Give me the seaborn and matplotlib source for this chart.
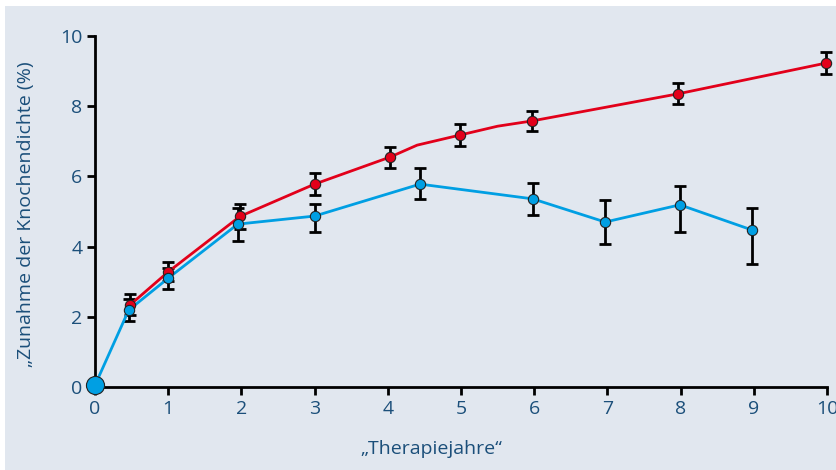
import numpy as np
import pandas as pd
import seaborn as sns
import matplotlib.pyplot as plt
from matplotlib.patches import Rectangle

# werte
red_x = [0.48, 1.0, 1.98, 3.0, 4.03, 4.99, 5.97, 7.96, 9.99]
red_y = [2.34, 3.28, 4.86, 5.78, 6.55, 7.18, 7.58, 8.35, 9.23]
red_err = [0.30, 0.27, 0.35, 0.31, 0.30, 0.30, 0.29, 0.30, 0.31]

# rote linie hat zusaetzliche knickpunkte
red_line_x = [0.48, 1.0, 1.98, 3.0, 4.03, 4.4, 4.99, 5.5, 5.97, 7.96, 9.99]
red_line_y = [2.34, 3.28, 4.86, 5.78, 6.55, 6.89, 7.18, 7.43, 7.58, 8.35, 9.23]

blue_x = [0.0, 0.46, 1.0, 1.95, 3.0, 4.44, 5.98, 6.97, 7.99, 8.98]
blue_y = [0.05, 2.19, 3.10, 4.64, 4.87, 5.78, 5.36, 4.70, 5.19, 4.47]
blue_err_low = [0.0, 0.31, 0.30, 0.47, 0.45, 0.42, 0.45, 0.62, 0.78, 0.96]
blue_err_up = [0.0, 0.31, 0.30, 0.47, 0.34, 0.46, 0.45, 0.63, 0.53, 0.62]

x_ticks = [0, 1, 2, 3, 4, 5, 6, 7, 8, 9, 10]
y_ticks = [0, 2, 4, 6, 8, 10]

bg = '#E1E7EF'
red = '#E2001A'
blue = '#009FE3'
txt = '#1B4F7A'

sns.set_theme(style='white')
plt.rcParams['font.family'] = ['Open Sans', 'DejaVu Sans']

fig = plt.figure(figsize=(8.36, 4.70), dpi=100)
fig.patch.set_facecolor('white')
fig.patches.append(Rectangle((5 / 836, 0), 1, 1 - 6 / 470, transform=fig.transFigure,
                             facecolor=bg, edgecolor='none', zorder=-1))
ax = fig.add_axes([95 / 836, 83 / 470, 732 / 836, 351 / 470])
ax.set_zorder(1)
ax.set_facecolor('none')

# fehlerbalken
ax.errorbar(red_x, red_y, yerr=red_err, fmt='none', ecolor='black', elinewidth=2,
            capsize=4, capthick=2, zorder=2, clip_on=False)
ax.errorbar(blue_x[1:], blue_y[1:], yerr=[blue_err_low[1:], blue_err_up[1:]], fmt='none',
            ecolor='black', elinewidth=2, capsize=4, capthick=2, zorder=2, clip_on=False)

# linien
sns.lineplot(x=red_line_x, y=red_line_y, color=red, linewidth=2, sort=False, ax=ax, zorder=3)
sns.lineplot(x=blue_x, y=blue_y, color=blue, linewidth=2, sort=False, ax=ax, zorder=4)
for l in ax.lines:
    l.set_clip_on(False)

# punkte
sns.scatterplot(x=red_x, y=red_y, color=red, s=55, edgecolor='#222222', linewidth=0.8,
                ax=ax, zorder=5, clip_on=False)
sns.scatterplot(x=blue_x[1:], y=blue_y[1:], color=blue, s=55, edgecolor='#222222',
                linewidth=0.8, ax=ax, zorder=6, clip_on=False)
sns.scatterplot(x=blue_x[:1], y=blue_y[:1], color=blue, s=170, edgecolor='#222222',
                linewidth=0.8, ax=ax, zorder=7, clip_on=False)

ax.set_xlim(0, 10)
ax.set_ylim(0, 10)
ax.set_xticks(x_ticks)
ax.set_yticks(y_ticks)
sns.despine(ax=ax)
for s in ['left', 'bottom']:
    ax.spines[s].set_color('black')
    ax.spines[s].set_linewidth(2)
ax.tick_params(axis='both', direction='out', length=6, width=2, color='black',
               labelcolor=txt, labelsize=14, pad=3, left=True, bottom=True)

ax.set_xlabel('\u201eTherapiejahre\u201c', color=txt, fontsize=14)
ax.set_ylabel('\u201eZunahme der Knochendichte (%)', color=txt, fontsize=14)
ax.xaxis.set_label_coords(0.46, -0.151)
ax.yaxis.set_label_coords(-0.082, 0.493)

fig.savefig('out.png', dpi=100, facecolor=fig.get_facecolor())
